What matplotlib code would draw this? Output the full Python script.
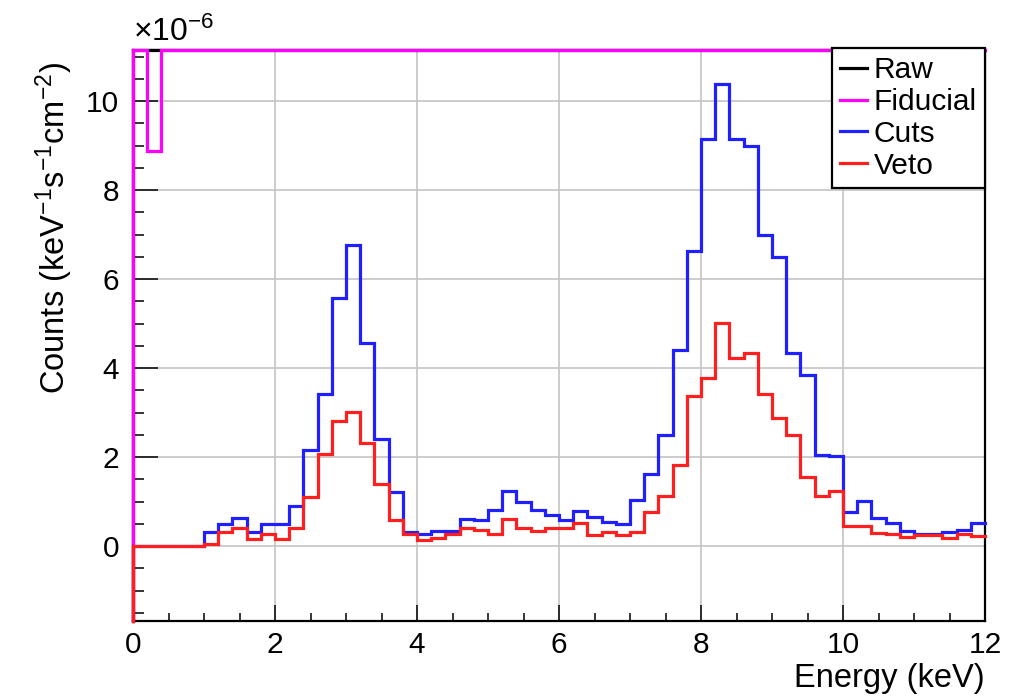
import numpy as np
import matplotlib
matplotlib.use("Agg")
import matplotlib.pyplot as plt

plt.rcParams['font.family'] = ['Liberation Sans', 'DejaVu Sans']
plt.rcParams['mathtext.fontset'] = 'custom'
plt.rcParams['mathtext.rm'] = 'Liberation Sans'
plt.rcParams['mathtext.it'] = 'Liberation Sans:italic'

# Energy binning (keV): 60 bins of 0.2 keV
bin_edges = np.linspace(0.0, 12.0, 61)

# Spectra in units of 1e-6 counts keV^-1 s^-1 cm^-2
raw = [60.0, 55.0, 52.0, 50.0, 48.0, 47.0, 46.0, 45.0, 44.0, 43.0,
       42.0, 42.0, 44.0, 46.0, 48.0, 50.0, 47.0, 44.0, 42.0, 41.0,
       40.0, 40.0, 39.0, 39.0, 38.0, 38.0, 39.0, 38.0, 37.0, 37.0,
       36.0, 36.0, 36.0, 35.0, 35.0, 36.0, 38.0, 40.0, 43.0, 46.0,
       50.0, 52.0, 51.0, 50.0, 47.0, 45.0, 42.0, 40.0, 38.0, 37.0,
       35.0, 35.0, 34.0, 34.0, 33.0, 33.0, 33.0, 32.0, 32.0, 32.0]
fiducial = [30.0, 8.87, 28.0, 26.0, 25.0, 24.0, 24.0, 23.0, 23.0, 22.0,
            22.0, 22.0, 23.0, 24.0, 26.0, 27.0, 25.0, 23.0, 22.0, 21.0,
            21.0, 21.0, 20.0, 20.0, 20.0, 20.0, 20.0, 20.0, 19.0, 19.0,
            19.0, 19.0, 19.0, 18.0, 18.0, 19.0, 20.0, 21.0, 23.0, 25.0,
            27.0, 28.0, 27.0, 27.0, 25.0, 24.0, 22.0, 21.0, 20.0, 19.0,
            18.0, 18.0, 18.0, 17.0, 17.0, 17.0, 17.0, 17.0, 16.0, 16.0]
cuts = [0.0, 0.0, 0.0, 0.0, 0.0, 0.32, 0.49, 0.64, 0.32, 0.51,
        0.49, 0.90, 2.16, 3.41, 5.57, 6.76, 4.57, 2.42, 1.22, 0.33,
        0.28, 0.34, 0.34, 0.62, 0.58, 0.81, 1.24, 1.00, 0.81, 0.70,
        0.58, 0.79, 0.66, 0.55, 0.51, 1.05, 1.63, 2.51, 4.42, 6.63,
        9.15, 10.39, 9.15, 9.00, 7.00, 6.50, 4.34, 3.85, 2.05, 2.02,
        0.76, 1.01, 0.63, 0.52, 0.35, 0.27, 0.27, 0.33, 0.37, 0.52]
veto = [0.0, 0.0, 0.0, 0.0, 0.0, 0.06, 0.32, 0.41, 0.17, 0.27,
        0.17, 0.41, 1.11, 2.07, 2.82, 3.02, 2.31, 1.39, 0.60, 0.27,
        0.13, 0.19, 0.27, 0.40, 0.36, 0.27, 0.62, 0.40, 0.34, 0.40,
        0.40, 0.53, 0.25, 0.32, 0.25, 0.33, 0.76, 1.13, 1.83, 3.38,
        3.78, 5.01, 4.23, 4.34, 3.43, 2.88, 2.51, 1.55, 1.13, 1.25,
        0.46, 0.46, 0.30, 0.28, 0.21, 0.26, 0.26, 0.19, 0.28, 0.24]

series_labels = ['Raw', 'Fiducial', 'Cuts', 'Veto']
series_colors = ['#000000', '#ff00ff', '#1f1fff', '#ff1f1f']

y_min, y_max = -1.68, 11.15

fig = plt.figure(figsize=(10.17, 6.97), dpi=100)
ax = fig.add_axes([133 / 1017, 76 / 697, 852 / 1017, 571 / 697])
ax.set_xlim(0, 12)
ax.set_ylim(y_min, y_max)


def draw_hist(values, color, label, z):
    # Histogram outline; bins above the frame are drawn along its top edge
    vals = np.minimum(np.asarray(values, dtype=float), y_max)
    xs = np.concatenate([[bin_edges[0]], np.repeat(bin_edges, 2)[1:-1]])
    ys = np.concatenate([[y_min], np.repeat(vals, 2)])
    ax.plot(xs, ys, color=color, lw=2.3, label=label, clip_on=False,
            solid_joinstyle='miter', zorder=z)


for i, (vals, col, lab) in enumerate(zip([raw, fiducial, cuts, veto],
                                         series_colors, series_labels)):
    draw_hist(vals, col, lab, 5 + i * 0.1)

# Grid and axes styling
ax.set_xticks(np.arange(0, 13, 2))
ax.set_yticks(np.arange(0, 11, 2))
ax.set_xticks(np.arange(0, 12.01, 0.5), minor=True)
ax.set_yticks(np.arange(-1.5, 11.1, 0.5), minor=True)
ax.grid(True, which='major', color='#c4c4c4', lw=1.2, zorder=0)
ax.set_axisbelow(True)
for sp in ax.spines.values():
    sp.set_linewidth(1.6)
    sp.set_zorder(4)

ax.tick_params(axis='x', which='major', direction='in', length=11.5, width=1.1,
               labelsize=21.5, pad=7)
ax.tick_params(axis='x', which='minor', direction='in', length=5.8, width=1.1)
ax.tick_params(axis='y', which='major', direction='in', length=18, width=1.1,
               labelsize=21.5, pad=10)
ax.tick_params(axis='y', which='minor', direction='in', length=8, width=1.1)

ax.set_xlabel('Energy (keV)', fontsize=23.5, loc='right', labelpad=3)
ax.set_ylabel('Counts (keV$^{-1}$s$^{-1}$cm$^{-2}$)', fontsize=23.5, loc='top')
ax.yaxis.set_label_coords(-0.068, 0.979)

ax.text(0.0, 1.003, r'$\times$10$^{-6}$', transform=ax.transAxes,
        fontsize=23, ha='left', va='bottom')

leg = ax.legend(loc='upper right', bbox_to_anchor=(1.0, 1.004), borderaxespad=0,
                fontsize=21.5, frameon=True, fancybox=False, framealpha=1,
                edgecolor='black', handlelength=0.9, handletextpad=0.22,
                labelspacing=0.13, borderpad=0.28)
leg.get_frame().set_linewidth(1.6)
leg.set_zorder(6)
for line in leg.get_lines():
    line.set_linewidth(2.3)

fig.savefig('out.png', dpi=100)
